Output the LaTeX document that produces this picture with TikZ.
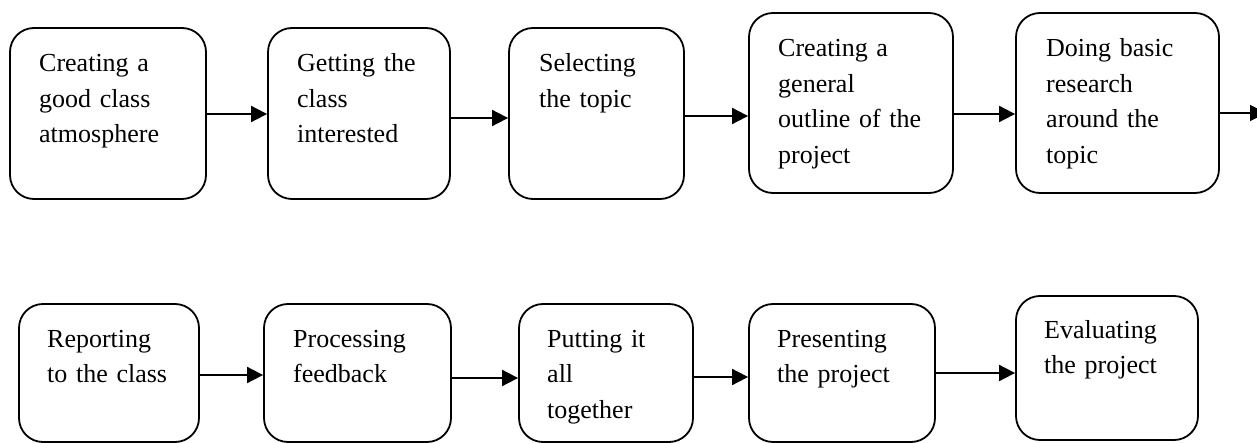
\documentclass[tikz,border=0pt]{standalone}
\usepackage{fontspec}
\setmainfont{Liberation Serif}
\usetikzlibrary{arrows.meta}
\begin{document}
\begin{tikzpicture}[x=1pt,y=-1pt,
  stagebox/.style={draw=black,line width=1.8pt,rounded corners=24pt,inner sep=0pt},
  stagetext/.style={anchor=base west,inner sep=0pt,align=left,text width=200pt,
    font=\fontsize{26}{35.5}\selectfont},
  flow/.style={line width=1.8pt,-{Triangle[length=16pt,width=16pt]}}]
\useasboundingbox (0,0) rectangle (1257,443);
% first row of stages
\node[stagebox,minimum width=196pt,minimum height=171pt] (b1) at (108,113.5) {};
\node[stagebox,minimum width=182pt,minimum height=171pt] (b2) at (359,113.5) {};
\node[stagebox,minimum width=175pt,minimum height=171pt] (b3) at (596.5,113.5) {};
\node[stagebox,minimum width=204pt,minimum height=180pt] (b4) at (851,103) {};
\node[stagebox,minimum width=203pt,minimum height=180pt] (b5) at (1117.5,103) {};
% second row of stages
\node[stagebox,minimum width=180pt,minimum height=138pt] (b6) at (109,373) {};
\node[stagebox,minimum width=187pt,minimum height=138pt] (b7) at (357.5,373) {};
\node[stagebox,minimum width=174pt,minimum height=138pt] (b8) at (606,373) {};
\node[stagebox,minimum width=186pt,minimum height=138pt] (b9) at (842,373) {};
\node[stagebox,minimum width=182pt,minimum height=144pt] (b10) at (1107,368) {};
% labels
\node[stagetext] (t1) at (39,72) {Creating a\\good class\\atmosphere};
\node[stagetext] (t2) at (297,72) {Getting the\\class\\interested};
\node[stagetext] (t3) at (539,72) {Selecting\\the topic};
\node[stagetext] (t4) at (778,57) {Creating a\\general\\outline of the\\project};
\node[stagetext] (t5) at (1046,57) {Doing basic\\research\\around the\\topic};
\node[stagetext] (t6) at (47,347) {Reporting\\to the class};
\node[stagetext] (t7) at (293,347) {Processing\\feedback};
\node[stagetext] (t8) at (547,347) {Putting it\\all\\together};
\node[stagetext] (t9) at (777,347) {Presenting\\the project};
\node[stagetext] (t10) at (1044,338) {Evaluating\\the project};
% connectors
\coordinate (out) at (1266,113);
\draw[flow] (b1.east |- 0,114) -- (b2.west |- 0,114);
\draw[flow] (b2.east |- 0,118) -- (b3.west |- 0,118);
\draw[flow] (b3.east |- 0,116) -- (b4.west |- 0,116);
\draw[flow] (b4.east |- 0,114) -- (b5.west |- 0,114);
\draw[flow] (b5.east |- out) -- (out);
\draw[flow] (b6.east |- 0,375) -- (b7.west |- 0,375);
\draw[flow] (b7.east |- 0,378) -- (b8.west |- 0,378);
\draw[flow] (b8.east |- 0,377) -- (b9.west |- 0,377);
\draw[flow] (b9.east |- 0,373) -- (b10.west |- 0,373);
\end{tikzpicture}
\end{document}
